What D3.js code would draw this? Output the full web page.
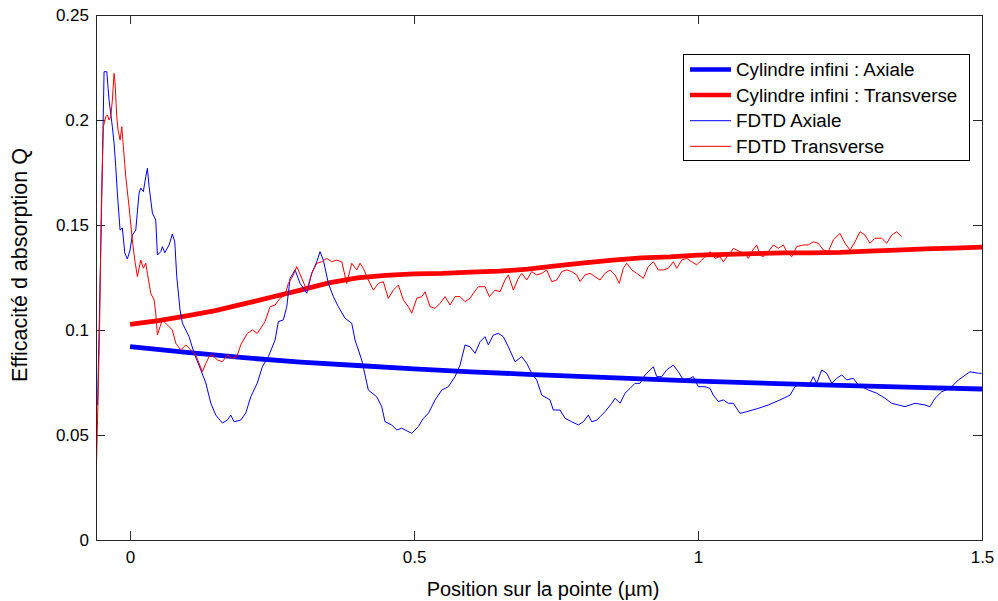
<!DOCTYPE html>
<html>
<head>
<meta charset="utf-8">
<script src="https://cdn.jsdelivr.net/npm/d3@7"></script>
<style>
  html, body { margin: 0; padding: 0; background: #fff; }
  svg { display: block; }
  text { font-family: "Liberation Sans", Arial, sans-serif; fill: #000; }
</style>
</head>
<body>
<svg id="chart" width="998" height="601"></svg>
<script>
// ---------- DATA ----------
const xTicks = [0, 0.5, 1, 1.5];
const xTickLabels = ["0", "0.5", "1", "1.5"];
const yTicks = [0, 0.05, 0.1, 0.15, 0.2, 0.25];
const yTickLabels = ["0", "0.05", "0.1", "0.15", "0.2", "0.25"];

const seriesNames = ["Cylindre infini : Axiale", "Cylindre infini : Transverse", "FDTD Axiale", "FDTD Transverse"];
const seriesColors = ["#0000ff", "#ff0000", "#0000ff", "#ff0000"];

// Cylindre infini (theory) — position (µm) and Q
const cylAxialePos = [0, 0.1, 0.2, 0.3, 0.4, 0.5, 0.6, 0.7, 0.8, 0.9, 1.0, 1.1, 1.2, 1.3, 1.4, 1.5];
const cylAxialeQ = [0.0921, 0.0893, 0.0868, 0.0847, 0.0831, 0.0815, 0.0801, 0.0789, 0.0778, 0.0767, 0.0757, 0.0748, 0.0740, 0.0733, 0.0726, 0.0719];

const cylTransPos = [0, 0.05, 0.1, 0.15, 0.2, 0.25, 0.3, 0.35, 0.4, 0.45, 0.5, 0.55, 0.6, 0.65, 0.7, 0.75, 0.8, 0.85, 0.9, 0.95, 1.0, 1.05, 1.1, 1.15, 1.2, 1.25, 1.3, 1.35, 1.4, 1.45, 1.5];
const cylTransQ = [0.1027, 0.1045, 0.1067, 0.1092, 0.1124, 0.1157, 0.1190, 0.1224, 0.1248, 0.1260, 0.1267, 0.1270, 0.1276, 0.1280, 0.1290, 0.1305, 0.1320, 0.1333, 0.1343, 0.1348, 0.1357, 0.1360, 0.1364, 0.1367, 0.1367, 0.1370, 0.1376, 0.1380, 0.1386, 0.1390, 0.1395];

// FDTD Axiale — [position, Q]
const fdtdAxiale = [
  [-0.0572,0.0643],[-0.0505,0.1540],[-0.0458,0.2230],[-0.0410,0.2230],[-0.0370,0.2095],[-0.0312,0.1968],
  [-0.0282,0.1890],[-0.0252,0.1778],[-0.0224,0.1652],[-0.0176,0.1476],[-0.0136,0.1486],[-0.0093,0.1367],
  [-0.0048,0.1338],[0.0000,0.1381],[0.0040,0.1452],[0.0100,0.1476],[0.0158,0.1652],[0.0188,0.1676],
  [0.0234,0.1659],[0.0276,0.1730],[0.0305,0.1770],[0.0335,0.1682],[0.0393,0.1557],[0.0452,0.1524],
  [0.0481,0.1357],[0.0540,0.1373],[0.0569,0.1397],[0.0611,0.1368],[0.0687,0.1405],[0.0745,0.1457],
  [0.0787,0.1420],[0.0822,0.1254],[0.0880,0.1095],[0.0921,0.1033],[0.1039,0.0968],[0.1127,0.0890],
  [0.1245,0.0810],[0.1333,0.0748],[0.1421,0.0652],[0.1509,0.0595],[0.1625,0.0557],[0.1713,0.0571],
  [0.1773,0.0595],[0.1831,0.0563],[0.1949,0.0571],[0.2037,0.0605],[0.2125,0.0682],[0.2241,0.0748],
  [0.2329,0.0825],[0.2435,0.0873],[0.2553,0.0952],[0.2611,0.1040],[0.2699,0.1048],[0.2759,0.1111],
  [0.2817,0.1246],[0.2905,0.1286],[0.2993,0.1222],[0.3111,0.1175],[0.3199,0.1270],[0.3287,0.1325],
  [0.3345,0.1373],[0.3403,0.1333],[0.3491,0.1222],[0.3579,0.1159],[0.3667,0.1111],[0.3785,0.1056],
  [0.3903,0.1032],[0.3961,0.0952],[0.4079,0.0857],[0.4195,0.0714],[0.4343,0.0682],[0.4431,0.0635],
  [0.4489,0.0563],[0.4607,0.0548],[0.4695,0.0524],[0.4783,0.0532],[0.4959,0.0508],[0.5076,0.0540],
  [0.5164,0.0580],[0.5252,0.0603],[0.5370,0.0667],[0.5488,0.0714],[0.5604,0.0730],[0.5722,0.0778],
  [0.5810,0.0833],[0.5898,0.0929],[0.5986,0.0920],[0.6074,0.0889],[0.6162,0.0944],[0.6250,0.0968],
  [0.6308,0.0929],[0.6396,0.0976],[0.6484,0.0984],[0.6572,0.0968],[0.6660,0.0920],[0.6778,0.0849],
  [0.6896,0.0873],[0.6984,0.0841],[0.7072,0.0794],[0.7160,0.0762],[0.7248,0.0690],[0.7394,0.0667],
  [0.7452,0.0619],[0.7570,0.0619],[0.7658,0.0580],[0.7776,0.0563],[0.7893,0.0548],[0.7981,0.0563],
  [0.8069,0.0595],[0.8129,0.0563],[0.8217,0.0571],[0.8275,0.0587],[0.8363,0.0611],[0.8481,0.0651],
  [0.8539,0.0675],[0.8627,0.0651],[0.8715,0.0699],[0.8803,0.0722],[0.8891,0.0746],[0.8979,0.0746],
  [0.9067,0.0786],[0.9125,0.0801],[0.9213,0.0825],[0.9273,0.0778],[0.9361,0.0778],[0.9449,0.0810],
  [0.9565,0.0833],[0.9653,0.0801],[0.9741,0.0762],[0.9859,0.0770],[0.9917,0.0778],[1.0005,0.0730],
  [1.0123,0.0730],[1.0211,0.0722],[1.0269,0.0690],[1.0357,0.0659],[1.0445,0.0667],[1.0533,0.0651],
  [1.0621,0.0651],[1.0739,0.0603],[1.0857,0.0611],[1.1062,0.0627],[1.1238,0.0643],[1.1444,0.0667],
  [1.1620,0.0690],[1.1708,0.0730],[1.1826,0.0746],[1.1942,0.0730],[1.2030,0.0778],[1.2090,0.0746],
  [1.2178,0.0810],[1.2266,0.0794],[1.2354,0.0746],[1.2442,0.0770],[1.2530,0.0786],[1.2618,0.0762],
  [1.2734,0.0770],[1.2822,0.0738],[1.2998,0.0714],[1.3146,0.0699],[1.3292,0.0675],[1.3410,0.0651],
  [1.3526,0.0643],[1.3644,0.0635],[1.3820,0.0651],[1.3996,0.0643],[1.4085,0.0635],[1.4173,0.0675],
  [1.4291,0.0706],[1.4437,0.0722],[1.4583,0.0762],[1.4789,0.0801],[1.4935,0.0794],[1.4995,0.0794]
];

// FDTD Transverse — [position, Q]
const fdtdTransverse = [
  [-0.0599,0.0276],[-0.0581,0.0476],[-0.0537,0.1000],[-0.0505,0.1605],[-0.0470,0.1968],[-0.0428,0.2016],
  [-0.0400,0.2024],[-0.0370,0.2000],[-0.0340,0.2016],[-0.0312,0.2095],[-0.0282,0.2222],[-0.0264,0.2175],
  [-0.0234,0.2016],[-0.0211,0.1952],[-0.0176,0.1905],[-0.0146,0.1968],[-0.0118,0.1873],[-0.0076,0.1730],
  [-0.0018,0.1587],[0.0040,0.1429],[0.0083,0.1333],[0.0129,0.1254],[0.0188,0.1333],[0.0234,0.1294],
  [0.0276,0.1318],[0.0305,0.1270],[0.0364,0.1175],[0.0423,0.1143],[0.0452,0.1080],[0.0481,0.0976],
  [0.0528,0.1016],[0.0569,0.1048],[0.0629,0.1032],[0.0687,0.1016],[0.0745,0.1000],[0.0805,0.0937],
  [0.0893,0.0905],[0.0981,0.0929],[0.1069,0.0905],[0.1157,0.0881],[0.1215,0.0841],[0.1273,0.0801],
  [0.1333,0.0841],[0.1391,0.0873],[0.1449,0.0881],[0.1537,0.0857],[0.1625,0.0849],[0.1713,0.0881],
  [0.1801,0.0865],[0.1879,0.0873],[0.1949,0.0929],[0.2065,0.0984],[0.2153,0.1000],[0.2241,0.0984],
  [0.2377,0.1040],[0.2465,0.1111],[0.2553,0.1119],[0.2641,0.1151],[0.2729,0.1167],[0.2787,0.1222],
  [0.2875,0.1262],[0.2935,0.1302],[0.3023,0.1246],[0.3111,0.1190],[0.3199,0.1270],[0.3287,0.1318],
  [0.3375,0.1325],[0.3463,0.1341],[0.3551,0.1325],[0.3639,0.1333],[0.3727,0.1325],[0.3815,0.1222],
  [0.3903,0.1318],[0.3991,0.1286],[0.4049,0.1318],[0.4107,0.1294],[0.4195,0.1238],[0.4283,0.1190],
  [0.4371,0.1222],[0.4459,0.1230],[0.4547,0.1151],[0.4636,0.1190],[0.4724,0.1214],[0.4812,0.1143],
  [0.4900,0.1111],[0.4959,0.1080],[0.5048,0.1151],[0.5136,0.1159],[0.5194,0.1182],[0.5282,0.1111],
  [0.5370,0.1103],[0.5458,0.1127],[0.5546,0.1159],[0.5634,0.1119],[0.5722,0.1159],[0.5810,0.1159],
  [0.5898,0.1135],[0.5986,0.1151],[0.6044,0.1175],[0.6132,0.1206],[0.6250,0.1206],[0.6326,0.1159],
  [0.6426,0.1190],[0.6514,0.1182],[0.6602,0.1238],[0.6660,0.1262],[0.6748,0.1190],[0.6836,0.1246],
  [0.6896,0.1270],[0.6984,0.1238],[0.7072,0.1278],[0.7160,0.1262],[0.7248,0.1270],[0.7336,0.1286],
  [0.7424,0.1230],[0.7512,0.1238],[0.7600,0.1278],[0.7688,0.1286],[0.7776,0.1278],[0.7864,0.1262],
  [0.7923,0.1230],[0.8011,0.1262],[0.8099,0.1270],[0.8187,0.1254],[0.8275,0.1238],[0.8363,0.1270],
  [0.8451,0.1286],[0.8539,0.1262],[0.8614,0.1222],[0.8685,0.1294],[0.8745,0.1318],[0.8833,0.1286],
  [0.8921,0.1270],[0.9037,0.1246],[0.9125,0.1302],[0.9213,0.1325],[0.9301,0.1286],[0.9389,0.1286],
  [0.9477,0.1294],[0.9565,0.1325],[0.9625,0.1294],[0.9713,0.1333],[0.9801,0.1341],[0.9889,0.1325],
  [0.9977,0.1310],[1.0065,0.1333],[1.0211,0.1373],[1.0299,0.1341],[1.0387,0.1349],[1.0445,0.1325],
  [1.0533,0.1357],[1.0563,0.1365],[1.0621,0.1389],[1.0739,0.1373],[1.0827,0.1365],[1.0885,0.1341],
  [1.0945,0.1373],[1.1033,0.1405],[1.1092,0.1357],[1.1150,0.1349],[1.1238,0.1373],[1.1326,0.1405],
  [1.1414,0.1389],[1.1502,0.1405],[1.1562,0.1373],[1.1650,0.1349],[1.1738,0.1397],[1.1854,0.1405],
  [1.1942,0.1405],[1.2030,0.1420],[1.2118,0.1413],[1.2206,0.1381],[1.2294,0.1373],[1.2382,0.1429],
  [1.2500,0.1460],[1.2588,0.1413],[1.2676,0.1381],[1.2764,0.1420],[1.2852,0.1468],[1.2940,0.1452],
  [1.3028,0.1413],[1.3116,0.1437],[1.3234,0.1437],[1.3322,0.1413],[1.3410,0.1452],[1.3498,0.1468],
  [1.3586,0.1444]
];

// ---------- LAYOUT ----------
const W = 998, H = 601;
const m = { left: 96, top: 15, right: 16, bottom: 61 };
const pw = W - m.left - m.right;   // plot width
const ph = H - m.top - m.bottom;   // plot height

const svg = d3.select("#chart");
const g = svg.append("g").attr("transform", `translate(${m.left},${m.top})`);

const x = d3.scaleLinear().domain([-0.06, 1.5]).range([0, pw]);
const y = d3.scaleLinear().domain([0, 0.25]).range([ph, 0]);

g.append("rect").attr("width", pw).attr("height", ph).attr("fill", "#fff");

const tickLen = 9;
const frameColor = "#262626";
// bottom axis
const gx = g.append("g").attr("transform", `translate(0,${ph})`)
  .call(d3.axisBottom(x).tickValues(xTicks).tickFormat((d, i) => xTickLabels[i]).tickSize(-tickLen).tickPadding(11));
// top axis (ticks only)
const gxt = g.append("g")
  .call(d3.axisTop(x).tickValues(xTicks).tickFormat("").tickSize(-tickLen));
// left axis
const gy = g.append("g")
  .call(d3.axisLeft(y).tickValues(yTicks).tickFormat((d, i) => yTickLabels[i]).tickSize(-tickLen).tickPadding(7));
// right axis (ticks only)
const gyr = g.append("g").attr("transform", `translate(${pw},0)`)
  .call(d3.axisRight(y).tickValues(yTicks).tickFormat("").tickSize(-tickLen));

[gx, gxt, gy, gyr].forEach(a => {
  a.select(".domain").remove();
  a.selectAll(".tick line").attr("stroke", frameColor).attr("stroke-width", 1);
  a.selectAll(".tick text").attr("font-size", 17).attr("fill", "#000")
    .style("font-family", '"Liberation Sans", Arial, sans-serif');
});

// clip
svg.append("defs").append("clipPath").attr("id", "clip")
  .append("rect").attr("width", pw).attr("height", ph);
const plot = g.append("g").attr("clip-path", "url(#clip)");

const line = d3.line().x(d => x(d[0])).y(d => y(d[1]));

const cylAxiale = cylAxialePos.map((p, i) => [p, cylAxialeQ[i]]);
const cylTrans = cylTransPos.map((p, i) => [p, cylTransQ[i]]);

plot.append("path").datum(cylAxiale).attr("d", line)
  .attr("fill", "none").attr("stroke", seriesColors[0]).attr("stroke-width", 4.8).attr("stroke-linecap", "butt");
plot.append("path").datum(cylTrans).attr("d", line)
  .attr("fill", "none").attr("stroke", seriesColors[1]).attr("stroke-width", 4.8).attr("stroke-linecap", "butt");
plot.append("path").datum(fdtdAxiale).attr("d", line)
  .attr("fill", "none").attr("stroke", seriesColors[2]).attr("stroke-width", 1).attr("stroke-linejoin", "round");
plot.append("path").datum(fdtdTransverse).attr("d", line)
  .attr("fill", "none").attr("stroke", seriesColors[3]).attr("stroke-width", 1).attr("stroke-linejoin", "round");

// frame
g.append("rect").attr("width", pw).attr("height", ph)
  .attr("fill", "none").attr("stroke", frameColor).attr("stroke-width", 1).attr("shape-rendering", "crispEdges");

// axis labels
svg.append("text").attr("x", 543).attr("y", 596)
  .attr("text-anchor", "middle").attr("font-size", 20).text("Position sur la pointe (µm)");
svg.append("text").attr("transform", `translate(27,265) rotate(-90)`)
  .attr("text-anchor", "middle").attr("font-size", 21.5).text("Efficacité d absorption Q");

// legend
const lg = svg.append("g");
lg.append("rect").attr("x", 683).attr("y", 54).attr("width", 286).attr("height", 106)
  .attr("fill", "#fff").attr("stroke", "#000").attr("stroke-width", 1).attr("shape-rendering", "crispEdges");
const widths = [4.5, 4.5, 1, 1];
seriesNames.forEach((name, i) => {
  const cy = 69.5 + i * 25.6;
  lg.append("line").attr("x1", 690).attr("x2", 731).attr("y1", cy).attr("y2", cy)
    .attr("stroke", seriesColors[i]).attr("stroke-width", widths[i]);
  lg.append("text").attr("x", 736).attr("y", cy).attr("dy", "0.36em")
    .attr("font-size", 18.8).text(name);
});
</script>
</body>
</html>
